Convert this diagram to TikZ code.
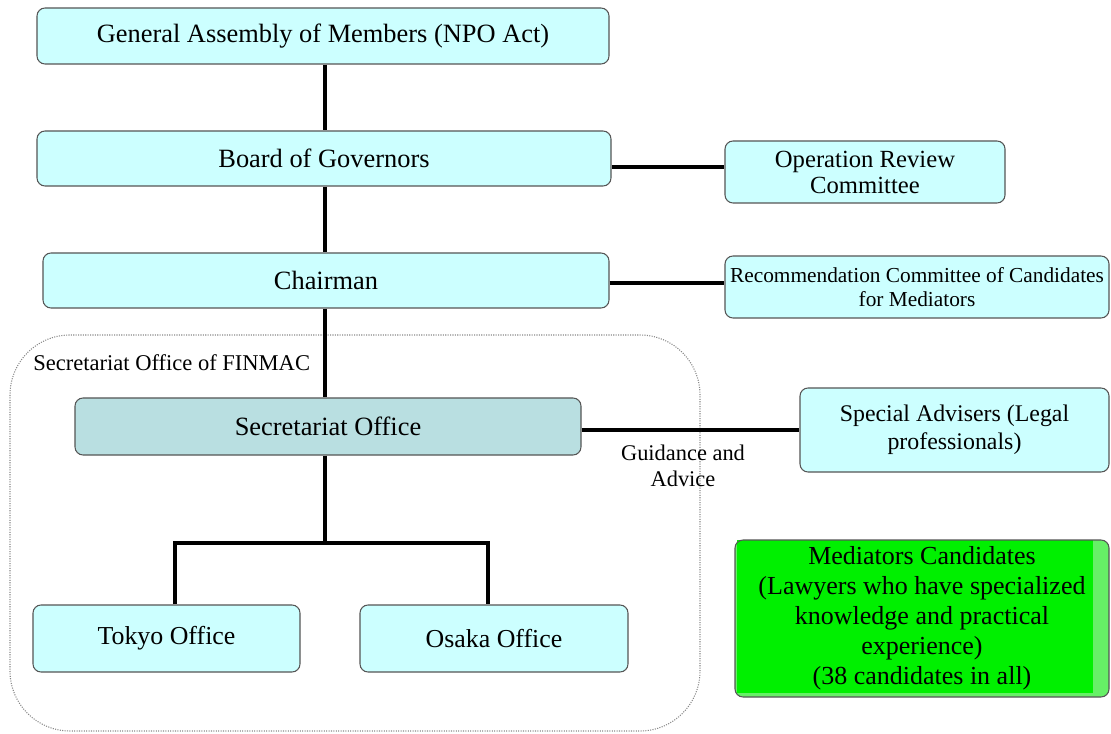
\documentclass[tikz,border=0pt]{standalone}
\usepackage{fontspec}
\setmainfont{Liberation Serif}
\newfontfamily\tnr{Liberation Serif}
\definecolor{boxcyan}{HTML}{CCFFFF}
\definecolor{secfill}{HTML}{B9DFE1}
\definecolor{boxline}{HTML}{555555}
\definecolor{medgreen}{HTML}{00F000}
\definecolor{medlight}{HTML}{66F066}
\tikzset{
  orgbox/.style={draw=boxline, line width=0.8pt, fill=boxcyan, rounded corners=6pt,
    inner sep=0pt, align=center, font=\tnr\fontsize{19.8}{23}\selectfont},
  conn/.style={line width=2.5pt, black},
}
\begin{document}
\begin{tikzpicture}[x=0.75pt, y=-0.75pt]
\useasboundingbox (0,0) rectangle (1111,734);
% container
\draw[boxline!70, densely dotted, line width=0.8pt, rounded corners=45pt] (10,335) rectangle (700,731);
\node[anchor=west, inner sep=0pt, font=\tnr\fontsize{16.9}{20}\selectfont] (fin) at (33,363) {Secretariat Office of FINMAC};
% main column
\node[orgbox, minimum width=429pt, minimum height=42pt] (ga) at (323,36) {\raisebox{4pt}{General Assembly of Members (NPO Act)}};
\node[orgbox, minimum width=430.5pt, minimum height=41.25pt] (board) at (324,158.5) {\raisebox{-2pt}{Board of Governors}};
\node[orgbox, minimum width=424.5pt, minimum height=41.25pt] (chair) at (326,280.5) {\raisebox{-2pt}{Chairman}};
\node[orgbox, fill=secfill, minimum width=379.5pt, minimum height=42.75pt] (sec) at (328,426.5) {\raisebox{1pt}{Secretariat Office}};
\node[orgbox, minimum width=200.25pt, minimum height=50.25pt, font=\tnr\fontsize{19.4}{23}\selectfont] (tokyo) at (166.5,638.5) {Tokyo Office};
\node[orgbox, minimum width=201pt, minimum height=50.25pt, font=\tnr\fontsize{19.4}{23}\selectfont] (osaka) at (494,638.5) {Osaka Office};
% right column
\node[orgbox, minimum width=210pt, minimum height=46.5pt, font=\tnr\fontsize{18.5}{19.5}\selectfont] (oprev) at (865,172) {Operation Review\\Committee};
\node[orgbox, minimum width=288pt, minimum height=46.5pt, font=\tnr\fontsize{16}{18.5}\selectfont] (recom) at (917,287) {Recommendation Committee of Candidates\\for Mediators};
\node[orgbox, minimum width=231.75pt, minimum height=63pt, font=\tnr\fontsize{17.9}{21}\selectfont] (special) at (954.5,430) {Special Advisers (Legal\\professionals)};
% mediators
\fill[medlight, rounded corners=6pt] (735,540) rectangle (1109,697);
\fill[medgreen] (737,540) rectangle (1093,693);
\node[draw=boxline, line width=0.8pt, rounded corners=6pt, minimum width=280.5pt, minimum height=117.75pt,
  inner sep=0pt, align=center, font=\tnr\fontsize{19.5}{22.5}\selectfont] (med) at (922,618.5)
  {Mediators Candidates\\(Lawyers who have specialized\\knowledge and practical\\experience)\\(38 candidates in all)};
% label
\node[align=center, inner sep=0pt, font=\tnr\fontsize{16.8}{20}\selectfont] (guid) at (683,466) {Guidance and\\Advice};
% connectors
\coordinate (trunk) at (325,0);
\coordinate (l1) at (0,167);
\coordinate (l2) at (0,283);
\coordinate (l3) at (0,430);
\coordinate (bar) at (0,543);
\coordinate (bl) at (175,543);
\coordinate (br) at (488,543);
\draw[conn] (ga.south -| trunk) -- (board.north -| trunk);
\draw[conn] (board.south -| trunk) -- (chair.north -| trunk);
\draw[conn] (chair.south -| trunk) -- (sec.north -| trunk);
\draw[conn] (sec.south -| trunk) -- (bar -| trunk);
\draw[conn] (tokyo.north -| bl) -- (bl) -- (br) -- (osaka.north -| br);
\draw[conn] (l1 -| board.east) -- (l1 -| oprev.west);
\draw[conn] (l2 -| chair.east) -- (l2 -| recom.west);
\draw[conn] (l3 -| sec.east) -- (l3 -| special.west);
\end{tikzpicture}
\end{document}
